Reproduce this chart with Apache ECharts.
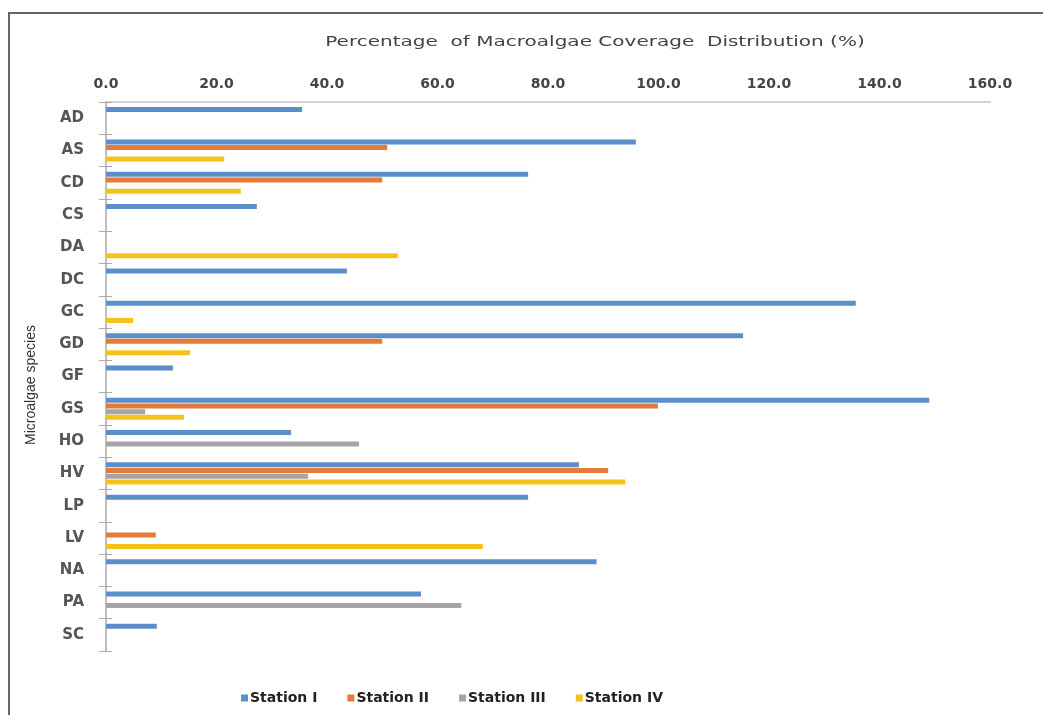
<!DOCTYPE html>
<html>
<head>
<meta charset="utf-8">
<script src="https://cdn.jsdelivr.net/npm/echarts@6/dist/echarts.min.js"></script>
<style>
  html, body { margin: 0; padding: 0; background: #fff; }
  #chart { width: 1043px; height: 715px; }
</style>
</head>
<body>
<div id="chart"></div>
<script>
// Species codes, top to bottom
const species = ['AD', 'AS', 'CD', 'CS', 'DA', 'DC', 'GC', 'GD', 'GF', 'GS', 'HO', 'HV', 'LP', 'LV', 'NA', 'PA', 'SC'];

// Coverage (%) per station; null = not recorded
const stationI   = [35.5, 95.9, 76.4, 27.3, null, 43.6, 135.7, 115.3, 12.1, 149.0, 33.5, 85.6, 76.4, null, 88.8, 57.0, 9.2];
const stationII  = [null, 50.9, 50.0, null, null, null, null, 50.0, null, 99.9, null, 90.9, null, 9.0, null, null, null];
const stationIII = [null, null, null, null, null, null, null, null, null, 7.1, 45.8, 36.6, null, null, null, 64.3, null];
const stationIV  = [null, 21.4, 24.4, null, 52.8, null, 4.9, 15.2, null, 14.1, null, 94.0, null, 68.2, null, null, null];

const stationNames = ['Station I', 'Station II', 'Station III', 'Station IV'];
const stationColors = ['#5B8FC9', '#E57B3B', '#A5A5A5', '#F5C21B'];
const stationData = [stationI, stationII, stationIII, stationIV];

const chart = echarts.init(document.getElementById('chart'));

const series = stationNames.map((name, i) => ({
  name: name,
  type: 'bar',
  data: stationData[i],
  yAxisIndex: 0,
  barWidth: 5,
  barGap: '14%',
  itemStyle: { color: stationColors[i] }
}));

chart.setOption({
  backgroundColor: '#fff',
  animation: false,
  textStyle: { fontFamily: 'DejaVu Sans' },
  legend: {
    data: stationNames,
    left: 236,
    top: 686,
    itemWidth: 7,
    itemHeight: 7,
    itemGap: 30,
    icon: 'rect',
    textStyle: { fontFamily: 'DejaVu Sans', fontSize: 14, fontWeight: 'bold', color: '#222', padding: [0, 0, 0, -3] }
  },
  grid: { left: 106, right: 53, top: 102, bottom: 64, containLabel: false },
  xAxis: {
    type: 'value',
    position: 'top',
    min: 0,
    max: 160,
    interval: 20,
    axisLine: { show: true, lineStyle: { color: '#d2d2d2', width: 2 } },
    axisTick: { show: false },
    splitLine: { show: false },
    axisLabel: {
      margin: 11,
      fontFamily: 'DejaVu Sans',
      fontSize: 14,
      fontWeight: 'bold',
      color: '#444',
      formatter: v => v.toFixed(1)
    }
  },
  yAxis: [
    {
      type: 'category',
      data: species,
      inverse: true,
      axisLine: { show: true, lineStyle: { color: '#aaa', width: 1.5 } },
      axisTick: { show: true, length: 7, lineStyle: { color: '#aaa' } },
      splitLine: { show: false },
      axisLabel: {
        margin: 22,
        fontFamily: 'DejaVu Sans',
        fontSize: 15,
        fontWeight: 'bold',
        color: '#555'
      }
    },
    {
      // inner half of the crossing category ticks
      type: 'category',
      data: species,
      inverse: true,
      position: 'left',
      axisLine: { show: false },
      axisTick: { show: true, inside: true, length: 6, lineStyle: { color: '#aaa' } },
      axisLabel: { show: false },
      splitLine: { show: false }
    }
  ],
  graphic: [
    {
      // chart title, slightly widened
      type: 'text',
      x: 595,
      y: 42,
      scaleX: 1.43,
      style: {
        text: 'Percentage  of Macroalgae Coverage  Distribution (%)',
        fontFamily: 'DejaVu Sans',
        fontSize: 14,
        fill: '#444',
        textAlign: 'center',
        textVerticalAlign: 'middle'
      }
    },
    {
      type: 'text',
      x: 31,
      y: 385,
      rotation: Math.PI / 2,
      style: {
        text: 'Microalgae species',
        fontFamily: 'Liberation Sans Narrow, Liberation Sans',
        fontSize: 14,
        fill: '#333',
        textAlign: 'center',
        textVerticalAlign: 'middle'
      }
    },
    {
      type: 'polyline',
      shape: { points: [[9, 720], [9, 13], [1050, 13]] },
      style: { stroke: '#666', lineWidth: 2, fill: null }
    }
  ],
  series: series
});
</script>
</body>
</html>
